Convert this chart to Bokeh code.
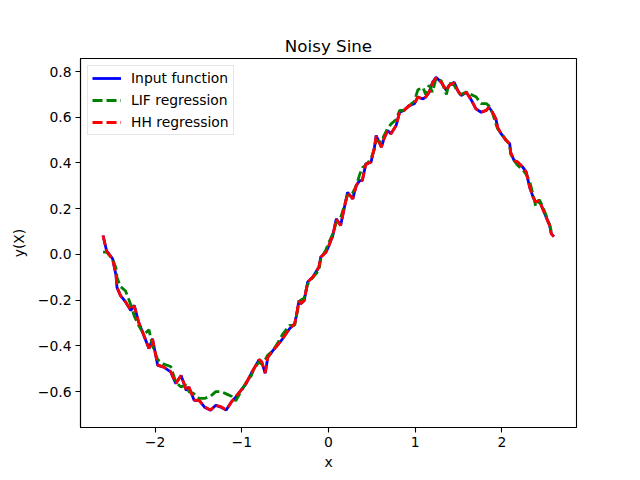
from bokeh.plotting import figure
from bokeh.models import FixedTicker, Range1d, Legend, LegendItem
from bokeh.embed import file_html
from bokeh.resources import INLINE

x_vals = [-2.60, -2.56, -2.49, -2.45, -2.44, -2.40, -2.34, -2.28, -2.24, -2.19,
          -2.13, -2.07, -2.03, -1.97, -1.90, -1.82, -1.76, -1.70, -1.64, -1.61,
          -1.55, -1.49, -1.43, -1.36, -1.30, -1.24, -1.18, -1.12, -1.07, -1.01,
          -0.95, -0.89, -0.86, -0.80, -0.77, -0.73, -0.70, -0.64, -0.59, -0.53,
          -0.45, -0.39, -0.37, -0.34, -0.32, -0.28, -0.24, -0.18, -0.11, -0.09,
          -0.03, -0.01, 0.05, 0.09, 0.14, 0.18, 0.22, 0.28, 0.32, 0.36,
          0.39, 0.43, 0.49, 0.53, 0.55, 0.61, 0.64, 0.68, 0.72, 0.78,
          0.82, 0.87, 0.93, 0.99, 1.03, 1.09, 1.12, 1.16, 1.20, 1.24,
          1.30, 1.36, 1.39, 1.45, 1.49, 1.53, 1.59, 1.64, 1.70, 1.76,
          1.82, 1.85, 1.89, 1.93, 1.95, 1.99, 2.05, 2.09, 2.10, 2.14,
          2.18, 2.24, 2.28, 2.32, 2.36, 2.39, 2.43, 2.47, 2.51, 2.55,
          2.57, 2.60]

input_y = [0.083, 0.017, -0.019, -0.092, -0.143, -0.179, -0.208, -0.245, -0.223, -0.296,
           -0.354, -0.412, -0.369, -0.485, -0.493, -0.514, -0.565, -0.529, -0.595, -0.580,
           -0.638, -0.638, -0.668, -0.682, -0.660, -0.668, -0.680, -0.645, -0.624, -0.595,
           -0.565, -0.520, -0.500, -0.460, -0.470, -0.520, -0.450, -0.420, -0.398, -0.369,
           -0.325, -0.303, -0.267, -0.201, -0.216, -0.201, -0.121, -0.099, -0.055, -0.012,
           0.010, 0.025, 0.083, 0.156, 0.127, 0.200, 0.272, 0.243, 0.302, 0.323,
           0.323, 0.396, 0.404, 0.469, 0.520, 0.469, 0.506, 0.542, 0.528, 0.564,
           0.622, 0.630, 0.651, 0.659, 0.688, 0.680, 0.688, 0.709, 0.753, 0.775,
           0.753, 0.717, 0.739, 0.753, 0.717, 0.695, 0.709, 0.680, 0.637, 0.622,
           0.630, 0.644, 0.622, 0.593, 0.556, 0.528, 0.498, 0.484, 0.447, 0.411,
           0.404, 0.382, 0.360, 0.294, 0.250, 0.229, 0.236, 0.200, 0.163, 0.127,
           0.090, 0.078]

lif_y = [0.010, 0.010, -0.020, -0.060, -0.100, -0.140, -0.160, -0.220, -0.270, -0.310,
         -0.350, -0.330, -0.400, -0.460, -0.480, -0.490, -0.560, -0.580, -0.570, -0.600,
         -0.610, -0.630, -0.630, -0.620, -0.600, -0.600, -0.610, -0.620, -0.640, -0.600,
         -0.560, -0.530, -0.500, -0.470, -0.480, -0.460, -0.440, -0.420, -0.390, -0.350,
         -0.310, -0.310, -0.270, -0.210, -0.200, -0.190, -0.130, -0.100, -0.070, -0.020,
         0.020, 0.040, 0.090, 0.140, 0.160, 0.210, 0.260, 0.270, 0.300, 0.350,
         0.380, 0.390, 0.420, 0.460, 0.500, 0.490, 0.520, 0.550, 0.570, 0.590,
         0.630, 0.630, 0.650, 0.670, 0.720, 0.730, 0.700, 0.740, 0.710, 0.770,
         0.760, 0.700, 0.750, 0.740, 0.710, 0.700, 0.710, 0.700, 0.690, 0.660,
         0.660, 0.650, 0.620, 0.570, 0.550, 0.530, 0.500, 0.480, 0.440, 0.410,
         0.390, 0.370, 0.350, 0.320, 0.260, 0.210, 0.240, 0.210, 0.170, 0.130,
         0.100, 0.100]

hh_y = [0.083, 0.015, -0.020, -0.090, -0.143, -0.180, -0.208, -0.243, -0.225, -0.296,
        -0.352, -0.412, -0.370, -0.483, -0.493, -0.512, -0.563, -0.530, -0.593, -0.580,
        -0.636, -0.640, -0.666, -0.680, -0.660, -0.666, -0.680, -0.645, -0.622, -0.595,
        -0.563, -0.520, -0.500, -0.460, -0.470, -0.518, -0.450, -0.420, -0.398, -0.369,
        -0.325, -0.303, -0.267, -0.203, -0.216, -0.201, -0.121, -0.099, -0.055, -0.012,
        0.010, 0.025, 0.083, 0.154, 0.127, 0.200, 0.270, 0.243, 0.302, 0.323,
        0.323, 0.394, 0.404, 0.469, 0.518, 0.469, 0.506, 0.540, 0.528, 0.564,
        0.620, 0.630, 0.651, 0.659, 0.688, 0.680, 0.688, 0.709, 0.751, 0.773,
        0.753, 0.717, 0.739, 0.751, 0.717, 0.695, 0.709, 0.680, 0.637, 0.622,
        0.630, 0.644, 0.622, 0.593, 0.556, 0.528, 0.498, 0.484, 0.447, 0.411,
        0.404, 0.382, 0.360, 0.294, 0.250, 0.229, 0.236, 0.200, 0.163, 0.127,
        0.090, 0.078]

x_ticks = [-2, -1, 0, 1, 2]
x_tick_labels = ["\u22122", "\u22121", "0", "1", "2"]
y_ticks = [-0.6, -0.4, -0.2, 0.0, 0.2, 0.4, 0.6, 0.8]
y_tick_labels = ["\u22120.6", "\u22120.4", "\u22120.2", "0.0", "0.2", "0.4", "0.6", "0.8"]

FONT = "DejaVu Sans"

p = figure(
    output_backend="svg", toolbar_location=None,
    frame_width=496, frame_height=369,
    min_border_left=80, min_border_right=64,
    min_border_top=58, min_border_bottom=53,
    x_range=Range1d(-2.86, 2.86), y_range=Range1d(-0.757, 0.857),
    title="Noisy Sine",
)
p.background_fill_color = "white"
p.border_fill_color = "white"
p.outline_line_color = "black"
p.outline_line_width = 1.1
p.xgrid.visible = False
p.ygrid.visible = False

p.title.align = "center"
p.title.text_font = FONT
p.title.text_font_size = "16.7px"
p.title.text_font_style = "normal"
p.title.text_color = "black"
p.title.offset = 0
p.title.standoff = 6

for ax in (p.xaxis[0], p.yaxis[0]):
    ax.axis_line_color = "black"
    ax.axis_line_width = 1.1
    ax.major_tick_out = 5
    ax.major_tick_in = 0
    ax.major_tick_line_width = 1.1
    ax.major_tick_line_color = "black"
    ax.minor_tick_out = 0
    ax.minor_tick_in = 0
    ax.major_label_text_font = FONT
    ax.major_label_text_font_size = "13.9px"
    ax.major_label_text_color = "black"
    ax.axis_label_text_font = FONT
    ax.axis_label_text_font_size = "13.9px"
    ax.axis_label_text_font_style = "normal"
    ax.axis_label_text_color = "black"
    ax.major_label_standoff = 4

p.xaxis[0].ticker = FixedTicker(ticks=x_ticks)
p.xaxis[0].major_label_overrides = dict(zip(x_ticks, x_tick_labels))
p.yaxis[0].ticker = FixedTicker(ticks=y_ticks)
p.yaxis[0].major_label_overrides = dict(zip(y_ticks, y_tick_labels))
p.xaxis[0].axis_label = "x"
p.yaxis[0].axis_label = "y(X)"
p.xaxis[0].axis_label_standoff = 4
p.yaxis[0].axis_label_standoff = 8

r_in = p.line(x_vals, input_y, line_color="#0000ff", line_width=2.8)
r_lif = p.line(x_vals, lif_y, line_color="#008000", line_width=2.8, line_dash="10 4")
r_hh = p.line(x_vals, hh_y, line_color="#ff0000", line_width=2.8, line_dash="10 4")

legend = Legend(items=[
    LegendItem(label="Input function", renderers=[r_in]),
    LegendItem(label="LIF regression", renderers=[r_lif]),
    LegendItem(label="HH regression", renderers=[r_hh]),
], location="top_left")
legend.label_text_font = FONT
legend.label_text_font_size = "13.9px"
legend.label_text_color = "black"
legend.border_line_color = "#cccccc"
legend.border_line_width = 1
legend.background_fill_alpha = 0.8
legend.margin = 7
legend.padding = 4
legend.spacing = 6
legend.glyph_height = 16
legend.label_height = 16
legend.glyph_width = 29
legend.label_standoff = 10
p.add_layout(legend)

open("out.html", "w").write(file_html(p, INLINE))
